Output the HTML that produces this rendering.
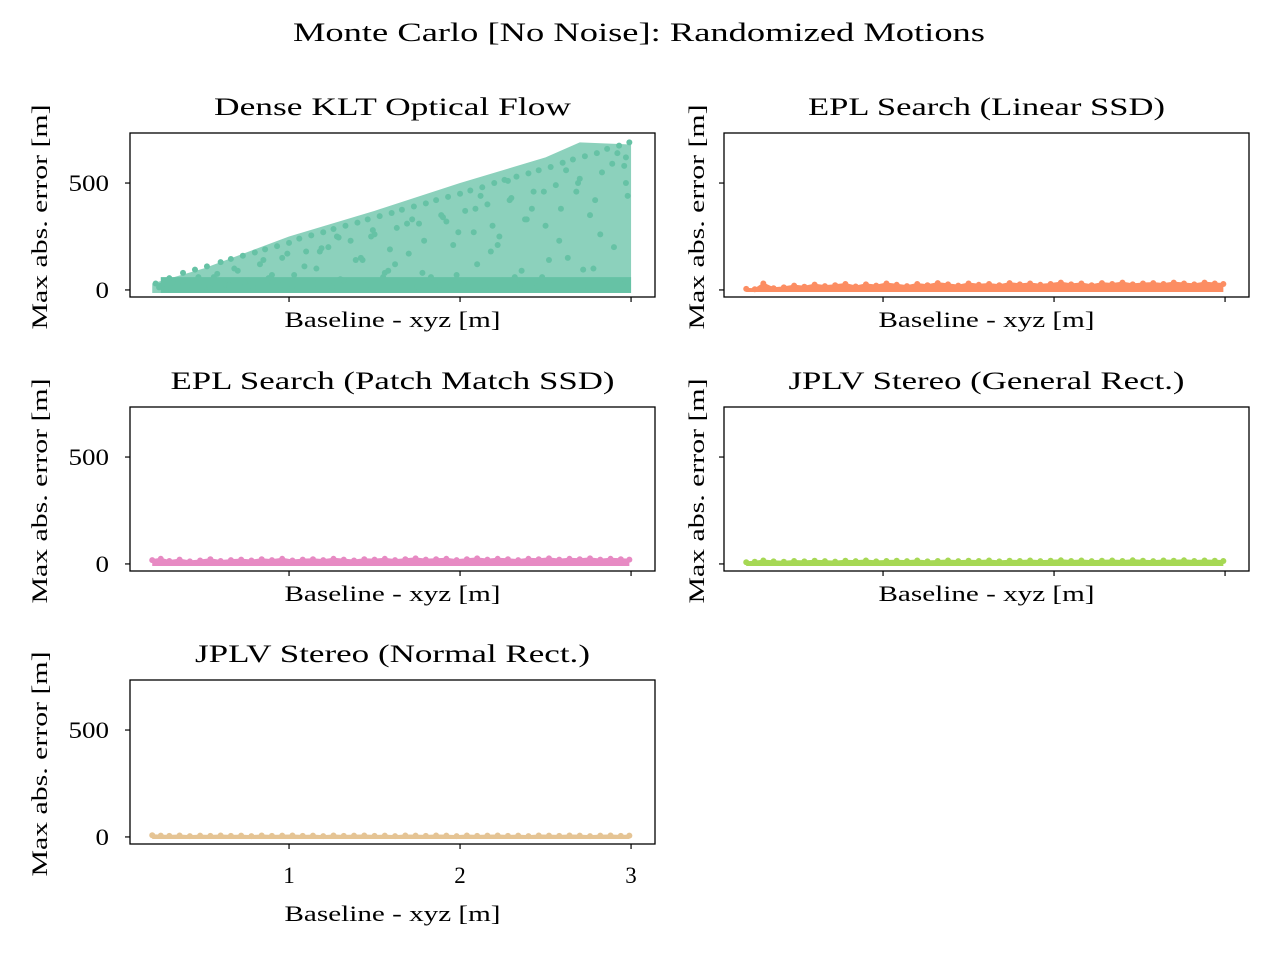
<!DOCTYPE html>
<html><head><meta charset="utf-8">
<style>
html,body{margin:0;padding:0;background:#fff;}
svg text{font-family:"Liberation Serif",serif;fill:#000;}
</style></head>
<body>
<svg id="fig" width="1280" height="960" viewBox="0 0 1280 960" xmlns="http://www.w3.org/2000/svg">
<text x="639" y="41" font-size="26" text-anchor="middle" textLength="692" lengthAdjust="spacingAndGlyphs">Monte Carlo [No Noise]: Randomized Motions</text>
</svg>
<script>
// ---------- data ----------
const xTicks = [1, 2, 3];
const yTicks = [0, 500];
const xDomain = [0.07, 3.14];
const yDomain = [-33, 734];

const kltBase = [0.22,0.25,0.3,0.33,0.38,0.41,0.45,0.5,0.52,0.56,0.6,0.63,0.66,0.7,0.73,0.76,0.8,0.83,0.86,0.9,0.93,0.96,1.0,1.03,1.06,1.1,1.13,1.16,1.2,1.23,1.26,1.3,1.33,1.36,1.4,1.43,1.46,1.5,1.53,1.56,1.6,1.63,1.66,1.7,1.73,1.76,1.8,1.83,1.86,1.9,1.93,1.96,2.0,2.03,2.06,2.1,2.13,2.16,2.2,2.23,2.26,2.3,2.33,2.36,2.4,2.43,2.46,2.5,2.53,2.56,2.6,2.63,2.66,2.7,2.73,2.76,2.8,2.83,2.86,2.9,2.93,2.96,2.99,
0.24,0.28,0.35,0.4,0.47,0.54,0.58,0.65,0.68,0.74,0.79,0.85,0.88,0.95,0.99,1.05,1.09,1.15,1.19,1.25,1.29,1.35,1.39,1.45,1.49,1.55,1.59,1.65,1.69,1.75,1.79,1.85,1.89,1.95,1.99,2.05,2.09,2.15,2.19,2.25,2.29,2.35,2.39,2.45,2.49,2.55,2.59,2.65,2.69,2.75,2.79,2.85,2.89,2.95,2.98,
0.9,1.02,1.18,1.32,1.48,1.62,1.78,1.92,2.02,2.12,2.22,2.32,2.42,2.52,2.62,2.72,2.82,2.92,2.97,2.97,2.97,2.88,2.78,2.68,2.58,2.48,2.38,2.28,2.18,2.08,1.98,1.88,1.72,1.58,1.42,1.28];
const kltErr = [30,20,55,10,80,40,95,15,110,60,130,25,145,90,160,45,175,120,190,30,205,150,220,70,240,180,255,100,270,200,285,50,300,230,315,140,330,260,345,80,360,290,375,170,390,310,405,60,420,340,435,210,450,370,465,120,480,400,500,250,515,430,530,90,545,460,560,300,575,490,595,150,610,520,625,350,640,550,660,200,675,580,690,
12,5,30,18,60,8,75,22,100,35,12,140,55,20,170,10,110,30,195,15,245,40,140,20,280,60,190,25,310,15,230,40,350,20,270,35,380,10,300,45,420,25,330,15,460,30,380,20,500,10,420,35,590,25,440,
70,20,180,45,250,120,80,320,30,440,210,60,380,140,560,95,260,640,40,500,620,20,100,460,230,60,330,510,180,270,70,20,330,90,150,250];

const linBase = [0.2,0.25,0.3,0.36,0.42,0.48,0.54,0.6,0.66,0.72,0.78,0.84,0.9,0.96,1.02,1.08,1.14,1.2,1.26,1.32,1.38,1.44,1.5,1.56,1.62,1.68,1.74,1.8,1.86,1.92,1.98,2.04,2.1,2.16,2.22,2.28,2.34,2.4,2.46,2.52,2.58,2.64,2.7,2.76,2.82,2.88,2.94,2.99];
const linErr  = [5,3,30,8,12,20,15,25,18,22,28,16,26,20,30,24,18,28,22,32,26,20,30,24,28,22,32,26,30,24,28,34,26,30,22,32,28,34,26,30,32,28,34,30,26,34,30,28];
const patchErr= [18,24,14,20,12,16,22,14,18,20,16,22,18,24,16,20,22,18,24,20,16,22,20,24,18,22,26,20,22,24,18,22,26,20,24,22,18,24,22,26,20,24,22,26,20,24,22,20];
const genErr  = [8,10,16,12,10,14,12,15,13,11,15,13,16,12,14,15,13,16,12,14,16,13,15,14,16,12,15,14,16,13,15,17,14,16,13,15,16,14,17,15,13,16,15,17,14,16,15,14];
const normErr = [8,6,5,7,4,6,5,7,5,6,4,7,5,6,7,5,6,4,7,5,6,7,5,6,4,7,6,5,7,6,4,7,5,6,7,5,6,4,7,6,5,7,6,4,6,7,5,6];

// envelope of KLT cloud (upper bound vs baseline)
const kltEnvBase = [0.2,0.5,1.0,1.5,2.0,2.5,2.7,3.0];
const kltEnvMax  = [30,100,250,370,500,620,690,680];

// ---------- layout ----------
const svg = document.getElementById('fig');
const NS = 'http://www.w3.org/2000/svg';
function mk(tag, attrs, parent){
  const e = document.createElementNS(NS, tag);
  for (const k in attrs) e.setAttribute(k, attrs[k]);
  (parent||svg).appendChild(e); return e;
}
const W = 525, H = 164;
const panels = [
  {id:'klt', title:'Dense KLT Optical Flow', tl:357, x:130, y:133, base:kltBase, err:kltErr, color:'#66c2a5', env:true, xlab:false, ylab:true},
  {id:'linear-ssd', title:'EPL Search (Linear SSD)', tl:357, x:724, y:133, base:linBase, err:linErr, color:'#fc8d62', xlab:false, ylab:false},
  {id:'patch-ssd', title:'EPL Search (Patch Match SSD)', tl:444, x:130, y:407, base:linBase, err:patchErr, color:'#e78ac3', xlab:false, ylab:true},
  {id:'general-rect', title:'JPLV Stereo (General Rect.)', tl:396, x:724, y:407, base:linBase, err:genErr, color:'#a6d854', xlab:false, ylab:false},
  {id:'normal-rect', title:'JPLV Stereo (Normal Rect.)', tl:395, x:130, y:680, base:linBase, err:normErr, color:'#e5c494', xlab:true, ylab:true}
];

panels.forEach(p=>{
  const sx = v => p.x + (v - xDomain[0]) / (xDomain[1]-xDomain[0]) * W;
  const sy = v => p.y + H - (v - yDomain[0]) / (yDomain[1]-yDomain[0]) * H;
  const g = mk('g', {});
  
  

  const t = mk('text', {x: p.x + W/2, y: p.y - 18, 'font-size': 25, 'text-anchor':'middle', textLength:p.tl, lengthAdjust:'spacingAndGlyphs'}, g);
  
  
  t.textContent = p.title;

  const clip = mk('clipPath', {id:'clip-'+p.id}, g);
  mk('rect', {x:p.x, y:p.y, width:W, height:H}, clip);
  const pts = mk('g', {'clip-path':'url(#clip-'+p.id+')'}, g);
  
  

  if (p.env){
    let d = 'M' + sx(kltEnvBase[0]) + ',' + (sy(0)+3);
    kltEnvBase.forEach((b,i)=>{ d += ' L' + sx(b) + ',' + sy(kltEnvMax[i]); });
    d += ' L' + sx(kltEnvBase[kltEnvBase.length-1]) + ',' + (sy(0)+3) + ' Z';
    const env = mk('path', {d:d, fill:p.color, 'fill-opacity':0.75}, pts);
    
    
    const band = mk('rect', {x:sx(0.25), y:sy(60), width:sx(3.0)-sx(0.25), height:sy(0)-sy(60)+3, fill:p.color}, pts);
    
    
  } else {
    let d = '';
    p.base.forEach((b,i)=>{ d += (i?' L':'M') + sx(b) + ',' + (sy(p.err[i]) - 1); });
    for (let i = p.base.length-1; i >= 0; i--) d += ' L' + sx(p.base[i]) + ',' + (sy(0) + 2);
    d += ' Z';
    const band = mk('path', {d:d, fill:p.color}, pts);
    
    
  }
  p.base.forEach((b,i)=>{
    const c = mk('circle', {cx:sx(b), cy:sy(p.err[i]), r:3, fill:p.color}, pts);
    
    
  });

  const frame = mk('rect', {x:p.x, y:p.y, width:W, height:H, fill:'none', stroke:'#000', 'stroke-width':1.3}, g);
  
  

  yTicks.forEach(v=>{
    const tk = mk('line', {x1:p.x-5, x2:p.x, y1:sy(v), y2:sy(v), stroke:'#000', 'stroke-width':1.2}, g);
    
    
    if (p.ylab){
      const s = String(v);
      const lb = mk('text', {x:p.x-21, y:sy(v)+8, 'font-size':23, 'text-anchor':'end', textLength:13.5*s.length, lengthAdjust:'spacingAndGlyphs'}, g);
      
      
      lb.textContent = v;
    }
  });
  xTicks.forEach(v=>{
    const tk = mk('line', {x1:sx(v), x2:sx(v), y1:p.y+H, y2:p.y+H+5, stroke:'#000', 'stroke-width':1.2}, g);
    
    
    if (p.xlab){
      const lb = mk('text', {x:sx(v), y:p.y+H+39, 'font-size':23, 'text-anchor':'middle'}, g);
      
      
      lb.textContent = v;
    }
  });
  const xl = mk('text', {x:p.x+W/2, y: p.xlab ? p.y+H+77 : p.y+H+30, 'font-size':22, 'text-anchor':'middle', textLength:216, lengthAdjust:'spacingAndGlyphs'}, g);
  
  
  xl.textContent = 'Baseline - xyz [m]';
  const yx = p.ylab ? p.x - 83 : p.x - 20, yy = p.y + H/2 + 2;
  const yl = mk('text', {x:yx, y:yy, 'font-size':22, 'text-anchor':'middle', textLength:225, lengthAdjust:'spacingAndGlyphs', transform:'rotate(-90 '+yx+' '+yy+')'}, g);
  
  
  yl.textContent = 'Max abs. error [m]';
});
</script>
</body></html>
